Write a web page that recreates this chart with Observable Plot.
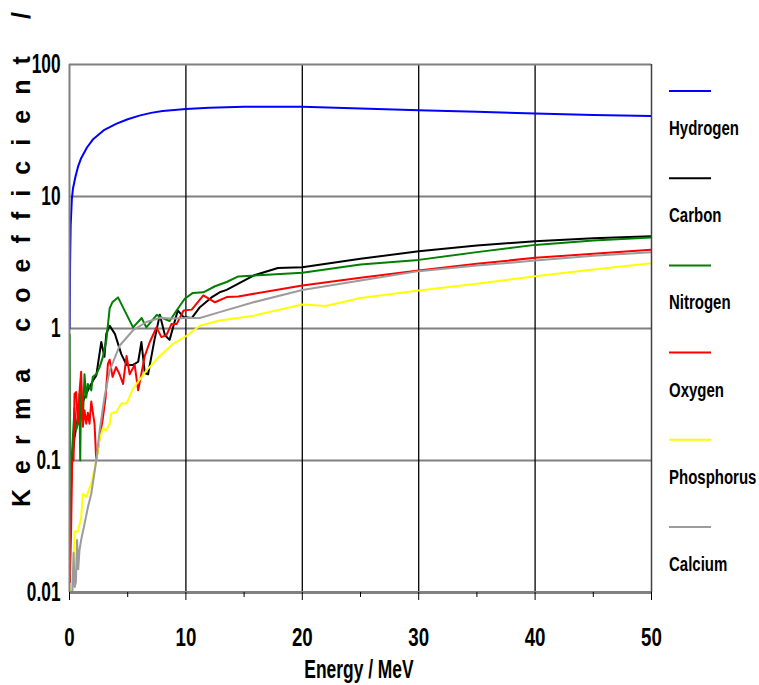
<!DOCTYPE html>
<html><head><meta charset="utf-8">
<script src="https://cdn.jsdelivr.net/npm/d3@7"></script>
<script src="https://cdn.jsdelivr.net/npm/@observablehq/plot@0.6"></script>
<style>
body{margin:0;background:#fff}
#chart{position:relative;width:759px;height:685px}
</style></head><body><div id="chart"></div>
<script>
const elements = ["Hydrogen","Carbon","Nitrogen","Oxygen","Phosphorus","Calcium"];
const colors = ["#0000ff","#000000","#008000","#ff0000","#ffff00","#9c9c9c"];

const hydrogen = [[0.02,1],[0.05,3],[0.1,6],[0.2,9.5],[0.3,11.5],[0.5,14],[0.75,17],[1,19.5],[1.5,23.5],[2,27],[3,32],[4,35.5],[5,38.5],[6,41],[7,43],[8,44.5],[10,46],[12,47],[15,47.8],[20,47.8],[25,46.5],[30,45],[35,43.8],[40,42.5],[45,41.5],[50,40.7]];
const carbon = [[0.01,0.012],[0.05,0.03],[0.09,0.05],[0.23,0.1],[0.43,0.15],[0.72,0.21],[1.15,0.28],[1.58,0.34],[2.0,0.4],[2.3,0.44],[2.73,0.79],[3.0,0.61],[3.16,0.91],[3.45,1.05],[3.9,0.91],[4.45,0.64],[4.9,0.53],[5.46,0.53],[5.9,0.56],[6.18,0.79],[6.47,0.46],[6.75,0.45],[7.3,0.82],[7.76,1.27],[8.2,0.89],[8.6,0.82],[9.3,1.37],[9.8,1.22],[10.5,1.2],[11.2,1.45],[12.2,1.72],[12.9,1.88],[13.5,1.96],[15.8,2.52],[17.9,2.87],[20,2.91],[25,3.37],[30,3.85],[35,4.26],[40,4.58],[45,4.83],[50,5.0]];
const nitrogen = [[0.01,0.03],[0.02,0.9],[0.06,0.06],[0.14,0.087],[0.29,0.15],[0.43,0.25],[0.57,0.17],[0.72,0.19],[0.86,0.32],[0.92,0.1],[1.0,0.36],[1.15,0.2],[1.29,0.45],[1.44,0.3],[1.58,0.38],[1.87,0.34],[2.0,0.43],[2.3,0.45],[2.59,0.51],[2.87,0.61],[3.16,0.81],[3.45,1.42],[3.7,1.59],[4.17,1.72],[5.46,1.02],[6.2,1.2],[6.6,1.02],[7.5,1.27],[8.0,1.2],[8.6,1.14],[9.2,1.37],[9.9,1.68],[10.6,1.86],[11.5,1.88],[12.5,2.09],[13.5,2.25],[14.5,2.48],[20,2.64],[25,3.05],[30,3.31],[35,3.79],[40,4.3],[45,4.65],[50,4.9]];
const oxygen = [[0.03,0.012],[0.14,0.03],[0.23,0.1],[0.35,0.1],[0.43,0.32],[0.57,0.33],[0.72,0.19],[0.86,0.33],[1.0,0.47],[1.15,0.18],[1.29,0.24],[1.44,0.19],[1.58,0.23],[1.72,0.19],[1.87,0.28],[2.15,0.19],[2.3,0.1],[2.59,0.15],[2.87,0.21],[3.1,0.3],[3.3,0.54],[3.45,0.58],[3.7,0.43],[4.0,0.51],[4.3,0.45],[4.6,0.38],[4.9,0.62],[5.17,0.45],[5.6,0.53],[5.9,0.34],[6.47,0.62],[6.9,0.79],[7.47,1.02],[7.9,0.86],[8.33,0.89],[8.76,1.08],[9.2,1.08],[9.8,1.37],[10.5,1.39],[11.5,1.78],[12.5,1.58],[13.5,1.73],[14.5,1.75],[20,2.12],[25,2.42],[30,2.75],[35,3.09],[40,3.43],[45,3.68],[50,3.96]];
const phosphorus = [[0.14,0.01],[0.35,0.016],[0.43,0.029],[0.72,0.029],[1.0,0.037],[1.15,0.056],[1.44,0.053],[1.87,0.067],[2.3,0.1],[2.59,0.146],[2.87,0.175],[3.16,0.169],[3.45,0.19],[3.6,0.228],[4.0,0.232],[4.45,0.27],[4.9,0.27],[5.46,0.35],[6.6,0.48],[7.76,0.62],[8.9,0.766],[10.1,0.885],[11.2,1.05],[12.9,1.15],[15.8,1.25],[20,1.52],[22,1.48],[25,1.7],[30,1.94],[35,2.18],[40,2.49],[45,2.8],[50,3.12]];
const calcium = [[0.25,0.01],[0.35,0.02],[0.45,0.011],[0.55,0.012],[0.65,0.025],[0.75,0.015],[0.86,0.021],[1.0,0.025],[1.29,0.033],[1.6,0.045],[1.87,0.056],[2.3,0.1],[2.59,0.169],[3.0,0.3],[3.45,0.48],[4.3,0.74],[5.46,0.97],[6.6,1.12],[7.76,1.2],[8.9,1.19],[10.1,1.2],[11.2,1.2],[12.9,1.33],[15.8,1.58],[20,1.96],[25,2.31],[30,2.72],[35,3.0],[40,3.27],[45,3.55],[50,3.79]];

const xMajor = [0,10,20,30,40,50];
const xMinor = [5,15,25,35,45];
const yTicks = [0.01,0.1,1,10,100];
const yGrid = [0.1,1,10];
const xGrid = [10,20,30,40];
const xTitle = "Energy / MeV";
const yTitle = "Kerma coefficient /";

const seriesData = [hydrogen, carbon, nitrogen, oxygen, phosphorus, calcium];
const rows = elements.flatMap((name,i) => seriesData[i].map(([e,k]) => ({name, e, k})));

const FONT = '"Liberation Sans",Arial,sans-serif';

const plot = Plot.plot({
  width: 759, height: 685,
  marginLeft: 69, marginRight: 108, marginTop: 64, marginBottom: 93,
  style: {fontFamily: FONT, fontWeight: "bold", fontSize: "26px", background: "white", color: "black"},
  x: {domain: [0,50]},
  y: {type: "log", domain: [0.01,100]},
  color: {domain: elements, range: colors},
  marks: [
    Plot.ruleY(yGrid, {stroke: "#808080", strokeWidth: 2}),
    Plot.ruleX(xGrid, {stroke: "#000", strokeWidth: 1.3}),
    Plot.line(rows, {x: "e", y: "k", z: "name", stroke: "name", strokeWidth: 2, clip: true}),
    Plot.ruleY([100], {stroke: "#808080", strokeWidth: 2}),
    Plot.ruleX([0], {stroke: "#808080", strokeWidth: 2}),
    Plot.ruleX([50], {stroke: "#404040", strokeWidth: 1.5}),
    Plot.ruleY([0.01], {stroke: "#808080", strokeWidth: 3}),
    Plot.axisX({ticks: xMajor, tickSize: 8, tickPadding: 27, tickFormat: d => String(d), label: null, fontSize: 26}),
    Plot.axisX({ticks: xMinor, tickSize: 5, tickFormat: () => "", label: null}),
    Plot.axisY({ticks: yTicks, tickSize: 0, tickPadding: 9, tickFormat: d => String(d), label: null, fontSize: 27})
  ]
});
document.getElementById("chart").appendChild(plot);

const svg = d3.select(plot);
function squeeze(sel, s) {
  sel.each(function() {
    const t = this.getAttribute("transform") || "";
    const x = parseFloat(this.getAttribute("x")) || 0;
    this.setAttribute("transform", `${t} translate(${x},0) scale(${s},1) translate(${-x},0)`);
  });
}
squeeze(svg.selectAll('g[aria-label="x-axis tick label"] text'), 0.72);
squeeze(svg.selectAll('g[aria-label="y-axis tick label"] text'), 0.64);

svg.append("text")
  .attr("transform", "translate(359,678) scale(0.67,1)")
  .attr("text-anchor", "middle")
  .style("font-family", FONT).style("font-weight", "bold").style("font-size", "26px")
  .text(xTitle);
svg.append("text")
  .attr("transform", "translate(30,507) rotate(-90)")
  .attr("text-anchor", "start")
  .attr("textLength", 495).attr("lengthAdjust", "spacing")
  .style("font-family", FONT).style("font-weight", "bold").style("font-size", "25px")
  .text(yTitle);

const legend = svg.append("g");
elements.forEach((name, i) => {
  const y0 = 91 + 87.2 * i;
  legend.append("line").attr("x1", 669).attr("x2", 711).attr("y1", y0).attr("y2", y0)
    .attr("stroke", colors[i]).attr("stroke-width", 2);
  legend.append("text").attr("transform", `translate(669,${y0 + 44}) scale(0.75,1)`)
    .attr("text-anchor", "start")
    .style("font-family", FONT).style("font-weight", "bold").style("font-size", "20px")
    .text(name);
});
</script></body></html>
